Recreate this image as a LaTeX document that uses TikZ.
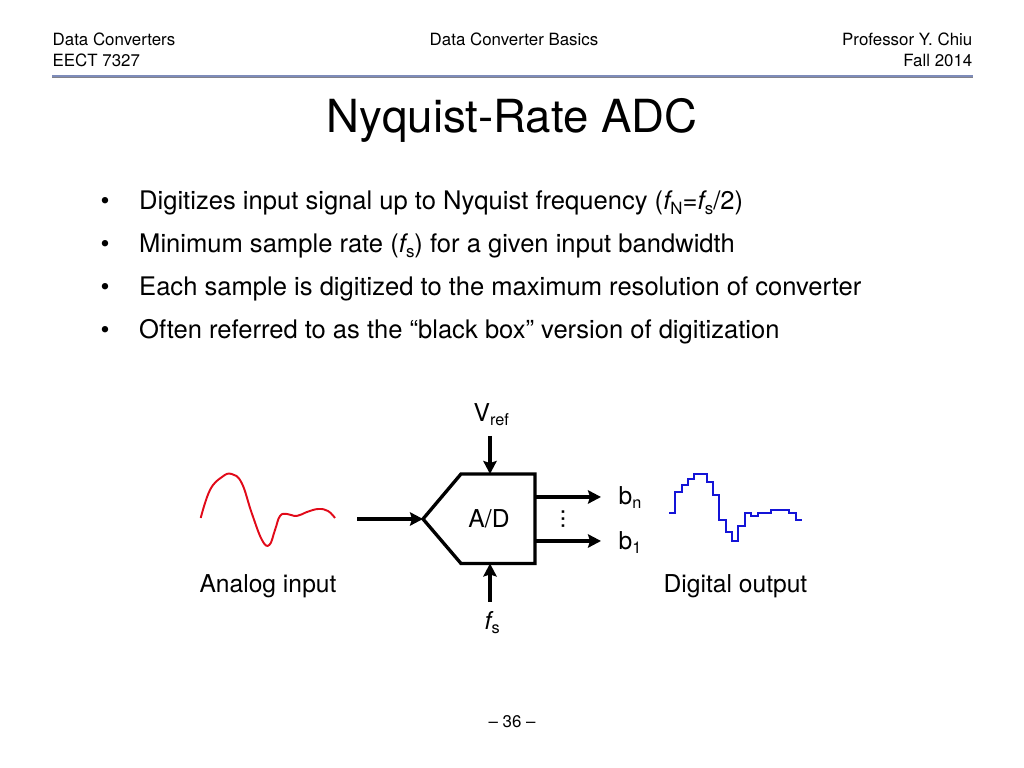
\documentclass[tikz,border=0pt]{standalone}
\usepackage{fontspec}
\setmainfont{TeX Gyre Heros}
\usetikzlibrary{arrows.meta}
\definecolor{rulecol}{RGB}{126,140,186}
\definecolor{rulelow}{RGB}{130,130,138}
\definecolor{wavered}{RGB}{225,10,25}
\definecolor{waveblue}{RGB}{20,20,215}
\newcommand{\lowtxt}[1]{\raisebox{-0.16em}{\scalebox{0.66}{#1}}}
\newcommand{\ftxt}{\textit{f}\kern-0.08em}
\tikzset{
	headtxt/.style={inner sep=0pt,font=\fontsize{4.8pt}{5.5pt}\selectfont},
	bodytxt/.style={inner sep=0pt,anchor=base west,font=\fontsize{7.27pt}{8.4pt}\selectfont},
	labeltxt/.style={inner sep=0pt,anchor=base west,font=\fontsize{7pt}{8.4pt}\selectfont},
	sigarrow/.style={line width=0.95pt,-{Stealth[length=3.7pt,width=3.8pt,inset=0.6pt]}},
}
\begin{document}
\begin{tikzpicture}[x=0.01cm,y=-0.01cm]
	\useasboundingbox (0,0) rectangle (1024,768);
	% page head
	\node[headtxt,anchor=base west] (course) at (52,45.5) {Data Converters};
	\node[headtxt,anchor=base west] (number) at (52,66.5) {EECT 7327};
	\node[headtxt,anchor=base] (topic) at (514,45.5) {Data Converter Basics};
	\node[headtxt,anchor=base east] (prof) at (973,45.5) {Professor Y. Chiu};
	\node[headtxt,anchor=base east] (term) at (973,66.5) {Fall 2014};
	\draw[rulecol,line width=0.4pt] (52,76.2) -- (973,76.2);
	\draw[rulelow,line width=0.25pt] (52,77.6) -- (973,77.6);
	\node[inner sep=0pt,anchor=base,font=\fontsize{12.97pt}{15pt}\selectfont] (title) at (512,132.5) {Nyquist-Rate ADC};
	% bullets
	\foreach \y in {210,253,296,339}
		\node[bodytxt] (dot\y) at (100,\y) {•};
	\node[bodytxt] (lineA) at (138.5,210) {Digitizes input signal up to Nyquist frequency (\ftxt\lowtxt{N}=\ftxt\lowtxt{s}/2)};
	\node[bodytxt] (lineB) at (138.5,253) {Minimum sample rate (\ftxt\lowtxt{s}) for a given input bandwidth};
	\node[bodytxt] (lineC) at (138.5,296) {Each sample is digitized to the maximum resolution of converter};
	\node[bodytxt] (lineD) at (138.5,339) {Often referred to as the “black box” version of digitization};
	% converter
	\coordinate (tip) at (423,519);
	\coordinate (upleft) at (461,474);
	\coordinate (upright) at (535,474);
	\coordinate (lowright) at (535,563.5);
	\coordinate (lowleft) at (461,563.5);
	\draw[line width=0.95pt,miter limit=10] (tip) -- (upleft) -- (upright) -- (lowright) -- (lowleft) -- cycle;
	\node[labeltxt,anchor=base] (ad) at (489,527.5) {A/D};
	% signals
	\coordinate (in) at (357,519);
	\coordinate (ref) at (490,436);
	\coordinate (reftip) at (490,474);
	\coordinate (clk) at (490,602);
	\coordinate (clktip) at (490,563.5);
	\coordinate (nfrom) at (535,497);
	\coordinate (nto) at (601,497);
	\coordinate (onefrom) at (535,541);
	\coordinate (oneto) at (601,541);
	\draw[sigarrow] (in) -- (tip);
	\draw[sigarrow] (ref) -- (reftip);
	\draw[sigarrow] (clk) -- (clktip);
	\draw[sigarrow] (nfrom) -- (nto);
	\draw[sigarrow] (onefrom) -- (oneto);
	\node[labeltxt] (vref) at (473,422) {V\lowtxt{ref}};
	\node[labeltxt] (fs) at (484,630) {\ftxt\lowtxt{s}};
	\node[labeltxt] (bn) at (618,505) {b\lowtxt{n}};
	\node[labeltxt] (bone) at (618,549.5) {b\lowtxt{1}};
	\node[labeltxt,anchor=center,rotate=90] (dots) at (563,519) {...};
	% waves
	\draw[wavered,line width=0.55pt] plot[smooth,tension=0.7] coordinates {(200.7,518) (210,490) (222,477) (231.7,474) (241.7,483) (251.7,513) (262,540) (269.3,545) (275,530) (280,516) (287,514) (296.7,516) (307,512) (318.3,509) (328,511) (335,518)};
	\draw[waveblue,line width=0.55pt] (669,513.3) -| (675,491.7) -| (681.7,485.3) -| (687.7,479) -| (694,474.3) -| (706.7,482.3) -| (713,494.7) -| (719.3,519.7) -| (725.7,532.3) -| (732,540.7) -| (738.3,526) -| (745,513.3) -| (751.3,515.7) -| (757.7,513.3) -| (770.7,509.7) -| (789.3,513.3) -| (795.7,519.7) -- (802.3,519.7);
	\node[labeltxt,anchor=base] (analog) at (268,593) {Analog input};
	\node[labeltxt,anchor=base] (digital) at (735.5,593) {Digital output};
	\node[headtxt,anchor=base] (page) at (512,728) {– 36 –};
\end{tikzpicture}
\end{document}
